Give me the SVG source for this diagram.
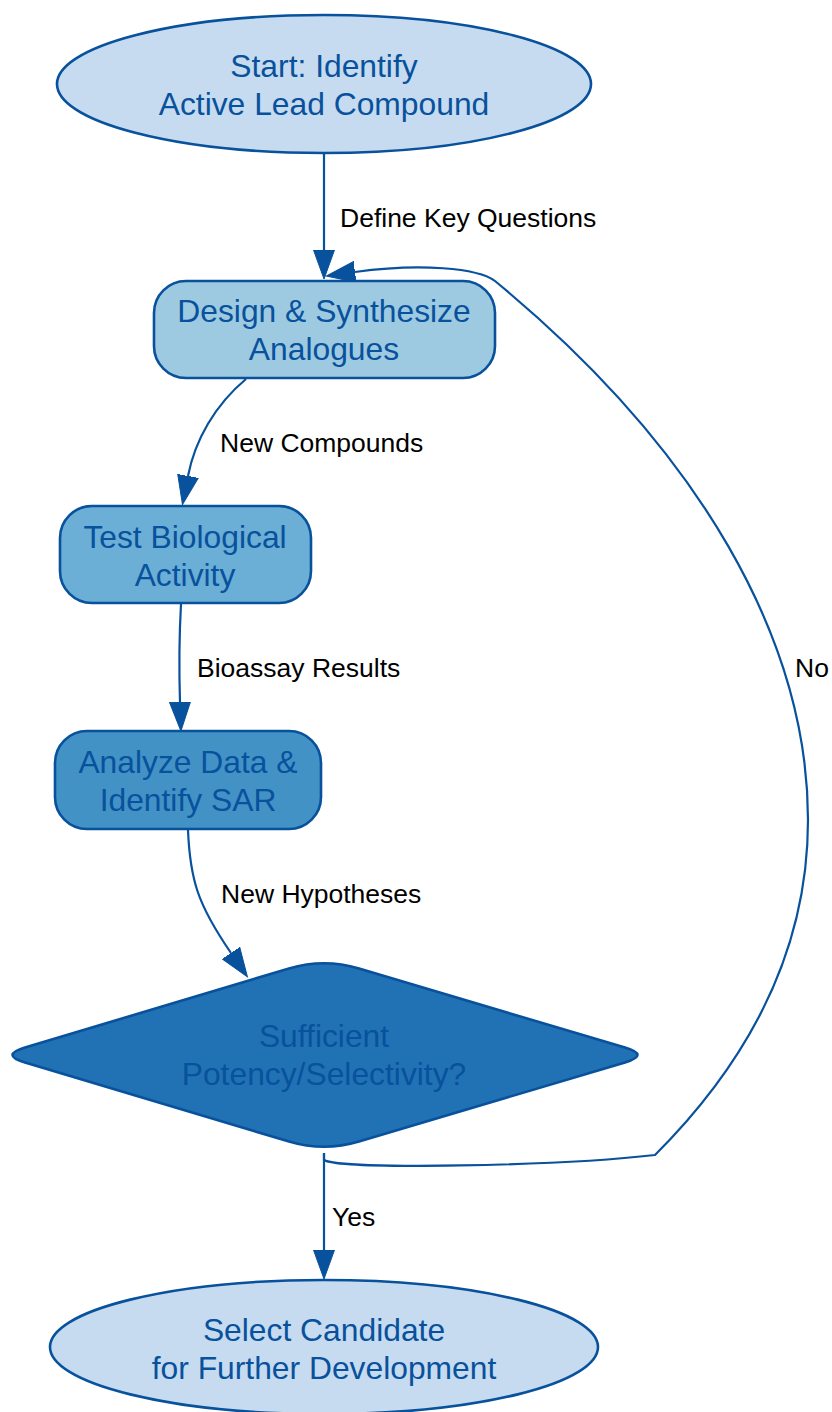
<svg xmlns="http://www.w3.org/2000/svg" width="832" height="1412" viewBox="0 0 832 1412">
<style>
.node{stroke:#08519c;stroke-width:2.6}
.nt{font-family:"Liberation Sans",Arial,sans-serif;font-size:31.8px;fill:#08519c;text-anchor:middle}
.edge{fill:none;stroke:#08519c;stroke-width:2.2}
.el{font-family:"Liberation Sans",Arial,sans-serif;font-size:26.5px;fill:#000}
</style>
<defs>
<marker id="ah" markerUnits="userSpaceOnUse" markerWidth="32" markerHeight="24" refX="0" refY="11" orient="auto" viewBox="0 0 32 24">
<path d="M0,0.5 L29,11 L0,21.5 z" fill="#08519c" stroke="#08519c" stroke-width="1"/>
</marker>
</defs>
<rect width="832" height="1412" fill="#fff"/>
<g id="connectors">
<path class="edge" d="M324,153 V250" marker-end="url(#ah)"/>
<path class="edge" d="M246,379 C215,405 195,440 188,476" marker-end="url(#ah)"/>
<path class="edge" d="M181,604 C179,640 179,670 180,702" marker-end="url(#ah)"/>
<path class="edge" d="M188,830 C190,880 198,905 231,953" marker-end="url(#ah)"/>
<path class="edge" d="M324,1153 V1250" marker-end="url(#ah)"/>
<path class="edge" d="M324,1153 V1160 C340,1170 560,1166 655,1155 C740,1070 808,960 808,820 C808,640 700,450 495,281 C478,268 420,263 355,272" marker-end="url(#ah)"/>
<text class="el" x="340" y="227">Define Key Questions</text>
<text class="el" x="220" y="452">New Compounds</text>
<text class="el" x="197" y="677">Bioassay Results</text>
<text class="el" x="221" y="903">New Hypotheses</text>
<text class="el" x="332" y="1226">Yes</text>
<text class="el" x="795" y="677">No</text>
</g>
<g id="start">
<ellipse class="node" cx="324" cy="84" rx="267" ry="69" fill="#c6dbef"/>
<text class="nt" x="324" y="77">Start: Identify</text>
<text class="nt" x="324" y="115">Active Lead Compound</text>
</g>
<g id="design">
<rect class="node" x="154" y="281" width="341" height="97" rx="32" fill="#9ecae1"/>
<text class="nt" x="324" y="322">Design &amp; Synthesize</text>
<text class="nt" x="324" y="360">Analogues</text>
</g>
<g id="test">
<rect class="node" x="60" y="506" width="251" height="97" rx="32" fill="#6baed6"/>
<text class="nt" x="185" y="548">Test Biological</text>
<text class="nt" x="185" y="586">Activity</text>
</g>
<g id="analyze">
<rect class="node" x="55" y="731" width="266" height="98" rx="32" fill="#4292c6"/>
<text class="nt" x="188" y="773">Analyze Data &amp;</text>
<text class="nt" x="188" y="811">Identify SAR</text>
</g>
<g id="decision">
<path class="node" d="M289,968.5 Q324,958 359,968.5 L625,1047.6 Q650,1055 625,1062.4 L359,1141.6 Q324,1152 289,1141.5 L25,1062.5 Q0,1055 25,1047.5 Z" fill="#2171b5"/>
<text class="nt" x="324" y="1047">Sufficient</text>
<text class="nt" x="324" y="1085">Potency/Selectivity?</text>
</g>
<g id="end">
<ellipse class="node" cx="324" cy="1347" rx="274" ry="67" fill="#c6dbef"/>
<text class="nt" x="324" y="1341">Select Candidate</text>
<text class="nt" x="324" y="1379">for Further Development</text>
</g>
</svg>
